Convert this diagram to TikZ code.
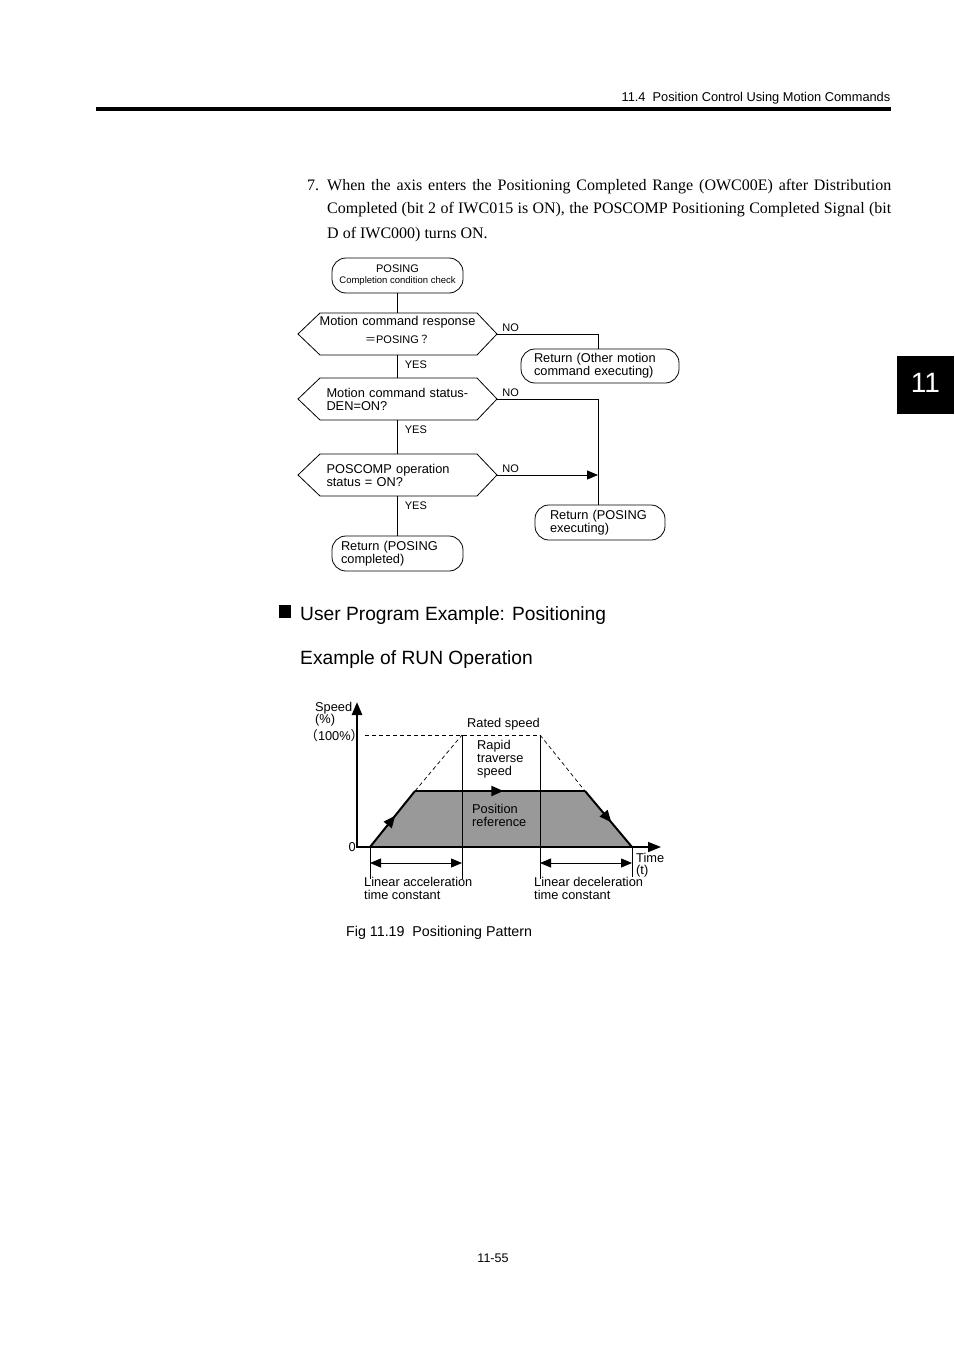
\documentclass[tikz,border=0pt]{standalone}
\usepackage{fontspec}
\setmainfont{Liberation Serif}
\setsansfont{Liberation Sans}
\newfontfamily\cjk{Noto Sans CJK JP}
\usepackage{tikz}
\usetikzlibrary{positioning,arrows.meta,decorations.markings}
\definecolor{refgray}{RGB}{153,153,153}

\newcommand{\flowfont}{\sffamily\fontsize{12.8}{13}\selectfont}
\newcommand{\smallflow}{\sffamily\fontsize{11}{11}\selectfont}

\begin{document}
\begin{tikzpicture}[
    x=1pt, y=-1pt,
    term/.style={rectangle, draw, line width=0.8pt, rounded corners=14pt, minimum height=35pt, align=left, inner ysep=0pt, font=\flowfont},
    decision/.style={rectangle, minimum width=157pt, minimum height=42pt, inner sep=0pt, font=\flowfont},
    flow/.style={draw, line width=0.8pt},
    yes/.style={right=7pt, inner sep=0pt, font=\smallflow},
    no/.style={anchor=south west, xshift=5pt, yshift=2pt, inner sep=0pt, font=\smallflow},
    txt/.style={anchor=base west, align=left, inner sep=0pt, font=\flowfont},
    dashline/.style={line width=0.7pt, dash pattern=on 4pt off 3pt},
    thinline/.style={line width=0.8pt},
    profile/.style={line width=2pt},
    midarrow/.style={postaction={decorate}, decoration={markings, mark=at position #1 with {\arrow{Triangle[length=12pt,width=10pt]}}}},
    >={Triangle[length=11pt,width=9pt]}
]
\path[use as bounding box, fill=white] (0,0) rectangle (954,1351);

% page head
\node[anchor=base east, inner sep=0pt, font=\flowfont] (head) at (890.5,101.5) {11.4~~Position Control Using Motion Commands};
\draw[line width=4pt] (96,109.5) -- (891,109.5);
\node[fill=black, text=white, minimum width=57pt, minimum height=58pt, inner sep=0pt, text height=20pt, text depth=6pt, font=\sffamily\fontsize{28}{28}\selectfont] (chaptab) at (925.5,385) {11};

% step 7
\node[anchor=base west, inner sep=0pt, font=\fontsize{16}{24}\selectfont] (num7) at (307,190) {7.};
\node[anchor=base west, text width=564pt, align=justify, inner sep=0pt, font=\fontsize{16}{24}\selectfont] (step7) at (327,190)
  {When the axis enters the Positioning Completed Range (OWC00E) after Distribution\linebreak Completed (bit 2 of IWC015 is ON), the POSCOMP Positioning Completed Signal (bit\linebreak D of IWC000) turns ON.};

% flow chart
\node[term, align=center, minimum width=131pt, inner xsep=2pt] (start) at (397.5,275.5)
  {{\smallflow POSING}\\[-2pt]{\sffamily\fontsize{9.5}{10}\selectfont Completion condition check}};
\node[decision, text width=157pt, align=center] (d1) at (397.5,334)
  {Motion command response\\[5pt]{\cjk\fontsize{11}{11}\selectfont ＝}{\smallflow POSING}{\cjk\fontsize{11}{11}\selectfont ？}\rule[-8pt]{0pt}{0pt}};
\node[decision, text width=142pt, align=left] (d2) at (397.5,399) {Motion command status-\\DEN=ON?};
\node[decision, text width=142pt, align=left] (d3) at (397.5,475) {POSCOMP operation\\status = ON?};
\node[term, text width=132pt, inner xsep=13pt, minimum height=34pt] (ret1) at (600,366) {Return (Other motion\\command executing)};
\node[term, text width=100pt, inner xsep=15pt] (ret2) at (600,522.5) {Return (POSING\\executing)};
\node[term, text width=113pt, inner xsep=9pt] (ret3) at (397.5,553.5) {Return (POSING\\completed)};

\foreach \d in {d1,d2,d3}{
  \draw[flow] ([xshift=-99.5pt]\d.center) -- ++(22,-21) -- ++(157,0) -- ++(20,21) -- ++(-20,21) -- ++(-157,0) -- cycle;
  \coordinate (\d-tip) at ([xshift=99.5pt]\d.center);
}

\draw[flow] (start) -- (d1);
\draw[flow] (d1) -- node[yes, pos=0.4] {YES} (d2);
\draw[flow] (d2) -- node[yes, pos=0.27] {YES} (d3);
\draw[flow] (d3) -- node[yes, pos=0.25] {YES} (ret3);
\draw[flow] (d1-tip) node[no] {NO} -| ([xshift=-2pt]ret1.north);
\draw[flow] (d2-tip) node[no] {NO} -| ([xshift=-2pt]ret2.north);
\draw[flow, ->] (d3-tip) node[no] {NO} -- ([xshift=-2pt]d3-tip -| ret2);

% heading
\node[fill=black, minimum size=12.5pt, inner sep=0pt] (bullet) at (285,611.5) {};
\node[anchor=base west, inner sep=0pt, font=\sffamily\fontsize{19.2}{20}\selectfont] (title) at (300,620) {User Program Example: Positioning};
\node[anchor=base west, inner sep=0pt, font=\sffamily\fontsize{19.2}{20}\selectfont] (subtitle) at (300,664) {Example of RUN Operation};

% speed pattern
\fill[refgray] (370,847) -- (415,791) -- (585,791) -- (632,847) -- cycle;
\draw[dashline] (365,735) -- (540,735);
\draw[dashline] (415,791) -- (462,735);
\draw[dashline] (540,735) -- (585,791);
\draw[thinline] (370,847) -- (370,879);
\draw[thinline] (462,735) -- (462,879);
\draw[thinline] (540,735) -- (540,879);
\draw[thinline] (632,847) -- (632,877);
\draw[profile, midarrow=0.56] (370,847) -- (415,791);
\draw[profile, midarrow=0.52] (415,791) -- (585,791);
\draw[profile, midarrow=0.56] (585,791) -- (632,847);
\draw[thinline, <->] (370,863) -- (462,863);
\draw[thinline, <->] (540,863) -- (632,863);
\draw[line width=2.5pt, -{Triangle[length=13pt,width=10pt]}] (357,848) -- (357,702);
\draw[line width=1.5pt, -{Triangle[length=13pt,width=10pt]}] (356,847) -- (661,847);

% labels (base of last line)
\node[txt] (speedlbl) at (315,723.6) {Speed\\[-1pt](\%)};
\node[txt] (fullspeed) at (305,740.6) {{\cjk（}100\%{\cjk）}};
\node[txt, anchor=base east] (zero) at (356,851.6) {0};
\node[txt] (rated) at (467,727.6) {Rated speed};
\node[txt] (rapid) at (477,775.6) {Rapid\\traverse\\speed};
\node[txt] (posref) at (472,826.6) {Position\\reference};
\node[txt] (timelbl) at (636,874.6) {Time\\[-1pt](t)};
\node[txt] (acc) at (364,899.6) {Linear acceleration\\time constant};
\node[txt] (dec) at (534,899.6) {Linear deceleration\\time constant};

\node[anchor=base west, inner sep=0pt, font=\sffamily\fontsize{14.25}{15}\selectfont] (caption) at (346,936) {Fig 11.19~~Positioning Pattern};
\node[anchor=base, inner sep=0pt, font=\sffamily\fontsize{12.5}{13}\selectfont] (pageno) at (493,1262.5) {11-55};
\end{tikzpicture}
\end{document}
